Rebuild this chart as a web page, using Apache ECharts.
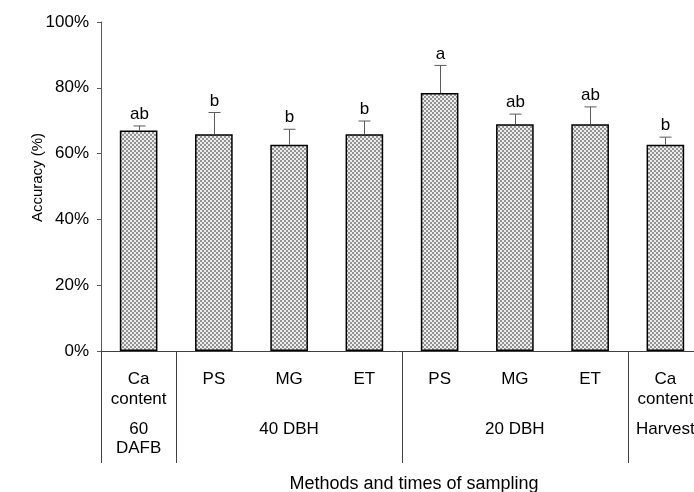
<!DOCTYPE html>
<html>
<head>
<meta charset="utf-8">
<script src="https://cdn.jsdelivr.net/npm/echarts@6/dist/echarts.min.js"></script>
<style>
  html, body { margin: 0; padding: 0; background: #fff; }
  #chart { width: 694px; height: 492px; }
</style>
</head>
<body>
<div id="chart"></div>
<script>
// Sampling methods (first label row) and sampling times (second label row)
const methods = ['Ca\ncontent', 'PS', 'MG', 'ET', 'PS', 'MG', 'ET', 'Ca\ncontent'];
const times = ['60\nDAFB', '', '40 DBH', '', '', '20 DBH', '', 'Harvest'];
// Boundaries (category index on the left of each separator) between sampling times
const timeBreaks = [0, 1, 4, 7];

// Mean accuracy (%) and upper error (%) for each method
const accuracy = [67.0, 65.9, 62.7, 65.9, 78.4, 68.9, 68.9, 62.7];
const errorUp = [1.4, 6.6, 4.7, 4.0, 8.4, 3.1, 5.3, 2.3];
// Significance letters
const letters = ['ab', 'b', 'b', 'b', 'a', 'ab', 'ab', 'b'];

const yTicks = [0, 20, 40, 60, 80, 100];

const FONT = 'Liberation Sans, Arial, sans-serif';

// Checkered grey fill for the bars
function makePattern() {
  const c = document.createElement('canvas');
  c.width = 4; c.height = 4;
  const ctx = c.getContext('2d');
  ctx.fillStyle = '#ececec';
  ctx.fillRect(0, 0, 4, 4);
  ctx.fillStyle = '#939393';
  ctx.fillRect(0, 0, 2, 2);
  ctx.fillRect(2, 2, 2, 2);
  return c;
}

const chart = echarts.init(document.getElementById('chart'), null, { renderer: 'canvas' });

const errData = accuracy.map((v, i) => [i, v, v + errorUp[i]]);

chart.setOption({
  animation: false,
  backgroundColor: '#fff',
  grid: { left: 101, top: 22, width: 602, bottom: 141, containLabel: false, outerBoundsMode: 'none' },
  xAxis: [
    {
      type: 'category',
      position: 'bottom',
      data: methods,
      axisLine: { show: true, lineStyle: { color: '#404040', width: 1 } },
      axisTick: { show: false },
      axisLabel: {
        interval: 0, margin: 18, fontFamily: FONT, fontSize: 17, color: '#000', lineHeight: 20
      }
    },
    {
      type: 'category',
      position: 'bottom',
      data: times,
      axisLine: { show: false },
      axisTick: {
        show: true,
        length: 112,
        interval: (idx) => timeBreaks.indexOf(idx) >= 0,
        lineStyle: { color: '#404040', width: 1 }
      },
      axisLabel: {
        interval: 0, margin: 69, fontFamily: FONT, fontSize: 17, color: '#000', lineHeight: 19
      },
      name: 'Methods and times of sampling',
      nameLocation: 'middle',
      nameGap: 124,
      nameMoveOverlap: false,
      nameTextStyle: { fontFamily: FONT, fontSize: 18, color: '#000', padding: [0, 0, 0, 24] }
    }
  ],
  yAxis: {
    type: 'value',
    min: yTicks[0],
    max: yTicks[yTicks.length - 1],
    interval: 20,
    name: 'Accuracy (%)',
    nameLocation: 'middle',
    nameGap: 56,
    nameMoveOverlap: false,
    nameTextStyle: { fontFamily: FONT, fontSize: 15, color: '#000', padding: [0, 0, 0, 18] },
    axisLine: { show: true, lineStyle: { color: '#595959', width: 1 } },
    axisTick: { show: true, inside: false, length: 4, lineStyle: { color: '#595959' } },
    splitLine: { show: false },
    axisLabel: {
      margin: 12, fontFamily: FONT, fontSize: 17, color: '#000',
      formatter: (v) => v + '%'
    }
  },
  series: [
    {
      type: 'bar',
      data: accuracy,
      barWidth: '50%',
      itemStyle: {
        color: { image: makePattern(), repeat: 'repeat' },
        borderColor: '#000',
        borderWidth: 1.5
      },
      z: 2
    },
    {
      type: 'custom',
      data: errData,
      encode: { x: 0, y: [1, 2] },
      z: 3,
      renderItem: function (params, api) {
        const i = api.value(0);
        const base = api.coord([i, api.value(1)]);
        const top = api.coord([i, api.value(2)]);
        const x = Math.round(base[0]) + 0.5;
        const half = 6;
        return {
          type: 'group',
          children: [
            { type: 'line', shape: { x1: x, y1: base[1], x2: x, y2: top[1] },
              style: { stroke: '#595959', lineWidth: 1 } },
            { type: 'line', shape: { x1: x - half, y1: top[1], x2: x + half, y2: top[1] },
              style: { stroke: '#595959', lineWidth: 1 } },
            { type: 'text', x: x, y: top[1] - 3,
              style: { text: letters[i], align: 'center', verticalAlign: 'bottom',
                       font: '17px ' + FONT, fill: '#000' } }
          ]
        };
      }
    }
  ]
});
</script>
</body>
</html>
